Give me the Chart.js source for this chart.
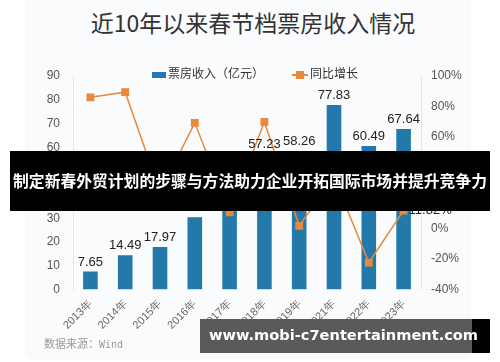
<!DOCTYPE html>
<html lang="zh">
<head>
<meta charset="UTF-8">
<title>近10年以来春节档票房收入情况</title>
<script src="https://cdn.jsdelivr.net/npm/chart.js"></script>
<style>
  body { margin: 0; background: #fff; font-family: "Liberation Sans", "Noto Sans CJK SC", sans-serif; }
  #wrap { position: relative; width: 500px; height: 362px; overflow: hidden; }
  #card { position: absolute; left: 27px; top: 0; width: 442px; height: 357px; background: #fafbfd; box-shadow: 0 0 3px rgba(0,0,0,0.08); }
  #title { position: absolute; left: 0; top: 5px; width: 506px; text-align: center; font-size: 23px; color: #333; font-family: "Noto Sans CJK SC", sans-serif; }
  canvas { position: absolute; left: 0; top: 0; }
  .legend { position: absolute; top: 64px; font-size: 12px; color: #333; font-family: "Noto Sans CJK SC", sans-serif; }
  .sw { display: inline-block; vertical-align: middle; }
  #source { position: absolute; left: 44px; top: 335px; font-size: 11px; color: #999; font-family: "Noto Sans CJK SC", sans-serif; }
  #source span { font-family: "DejaVu Sans Mono", monospace; font-size: 10px; }
  .band { position: absolute; }
  .bandText { position: absolute; color: #fff; font-weight: bold; white-space: nowrap; }
</style>
</head>
<body>
<div id="wrap">
  <div id="card"></div>
  <div id="title">近10年以来春节档票房收入情况</div>
  <canvas id="chart" width="500" height="362"></canvas>
  <div class="legend" style="left:152px"><span class="sw" style="width:14px;height:6px;background:#2379a9;margin-right:2px"></span>票房收入（亿元）</div>
  <div class="legend" style="left:292px"><span class="sw" style="position:relative;width:16px;height:2px;background:#e8893c;margin-right:2px"><span style="position:absolute;left:4px;top:-3px;width:8px;height:8px;background:#e8893c"></span></span>同比增长</div>
  <div id="source">数据来源：<span>Wind</span></div>

  <div class="band" style="left:10px;top:151px;width:480px;height:60px;background:#000"></div>
  <div class="band" style="left:26px;top:151px;width:446px;height:60px;background:rgba(0,0,0,0.6)"></div>
  <div class="bandText" style="left:8px;top:169px;width:484px;text-align:center;font-size:15.8px;font-family:'Noto Sans CJK SC',sans-serif;">制定新春外贸计划的步骤与方法助力企业开拓国际市场并提升竞争力</div>

  <div class="band" style="left:200px;top:319px;width:290px;height:34px;background:#000"></div>
  <div class="band" style="left:200px;top:319px;width:272px;height:34px;background:#5a5a5a"></div>
  <div class="bandText" style="left:209px;top:326px;font-size:14.6px;font-family:'DejaVu Sans',sans-serif;">www.mobi-c7entertainment.com</div>
</div>

<script>
const years = ['2013年', '2014年', '2015年', '2016年', '2017年', '2018年', '2019年', '2021年', '2022年', '2023年'];
const boxOffice = [7.65, 14.49, 17.97, 30.43, 33.69, 57.23, 58.26, 77.83, 60.49, 67.64];
const growth = [86, 89.4, 24, 69.3, 10.7, 69.9, 1.8, 33.6, -22.3, 11.82];

const blue = '#2379a9';
const orange = '#e8893c';

// value labels over bars, and the last growth point
const labelPlugin = {
  id: 'labels',
  afterDatasetsDraw(chart) {
    const ctx = chart.ctx;
    ctx.save();
    ctx.font = '13px "Liberation Sans", sans-serif';
    ctx.fillStyle = '#222';
    ctx.textAlign = 'center';
    ctx.textBaseline = 'bottom';
    chart.getDatasetMeta(1).data.forEach((bar, i) => {
      ctx.fillText(boxOffice[i].toFixed(2), bar.x, bar.y - 3);
    });
    const pts = chart.getDatasetMeta(0).data;
    const last = pts[pts.length - 1];
    ctx.textAlign = 'left';
    ctx.textBaseline = 'middle';
    ctx.fillText(growth[growth.length - 1].toFixed(2) + '%', last.x + 5, last.y);
    ctx.restore();
  }
};

new Chart(document.getElementById('chart'), {
  data: {
    labels: years,
    datasets: [
      {
        type: 'line',
        label: '同比增长',
        data: growth,
        yAxisID: 'y1',
        borderColor: orange,
        backgroundColor: orange,
        borderWidth: 1.5,
        pointStyle: 'rect',
        pointRadius: 4.5,
        tension: 0
      },
      {
        type: 'bar',
        label: '票房收入（亿元）',
        data: boxOffice,
        yAxisID: 'y',
        backgroundColor: blue,
        barPercentage: 0.42,
        categoryPercentage: 1
      }
    ]
  },
  options: {
    responsive: false,
    animation: false,
    layout: { padding: { top: 76, left: 0, right: 0, bottom: 30 } },
    plugins: { legend: { display: false }, tooltip: { enabled: false } },
    scales: {
      x: {
        grid: { display: false },
        border: { display: false },
        ticks: { color: '#666', font: { size: 11 }, minRotation: 45, maxRotation: 45, padding: 0 }
      },
      y: {
        position: 'left',
        min: 0, max: 90,
        ticks: { stepSize: 10, color: '#555', font: { size: 12 }, padding: 5 },
        grid: { display: false },
        border: { display: true, color: '#e6e6e6' },
        afterFit(s) { s.width = 73; }
      },
      y1: {
        position: 'right',
        min: -40, max: 100,
        ticks: { stepSize: 20, color: '#555', font: { size: 12 }, padding: 2, callback: v => v + '%' },
        grid: { display: false },
        border: { display: true, color: '#e6e6e6' },
        afterFit(s) { s.width = 79; }
      }
    }
  },
  plugins: [labelPlugin]
});
</script>
</body>
</html>
